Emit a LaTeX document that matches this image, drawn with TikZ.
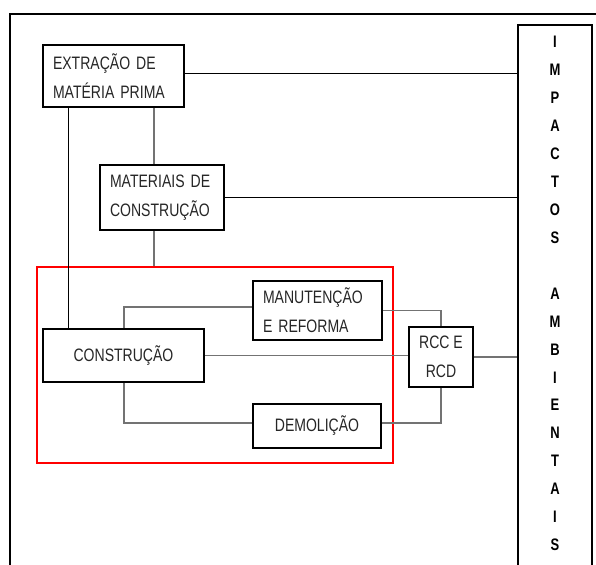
\documentclass[tikz,border=0pt]{standalone}
\usepackage{fontspec}
\setmainfont[FakeStretch=0.78]{Liberation Sans}
\begin{document}
\begin{tikzpicture}[x=0.75pt,y=-0.75pt,
  box/.style={draw=black, line width=1.2pt, fill=white, text=black!85,
    font={\fontsize{13.5}{21.5}\selectfont}, inner sep=0pt},
  lbox/.style={box, align=left, inner xsep=7.5pt},
  cbox/.style={box, align=center},
  conn/.style={line width=0.8pt, black!55},
  connk/.style={line width=0.65pt, black},
  letter/.style={font={\fontsize{12.5}{13}\selectfont\bfseries}, inner sep=0pt}]
\clip (0,0) rectangle (596,564);
\useasboundingbox (0,0) rectangle (596,564);
% outer frame
\draw[line width=1.5pt] (10,570) -- (10,14) -- (600,14);
% red group
\node[draw=red, line width=1.2pt, minimum width=267pt, minimum height=147pt, inner sep=0pt] (grp) at (215,365) {};
% impactos column
\node[draw=black, line width=1.2pt, minimum width=55.5pt, minimum height=431.25pt, inner sep=0pt] (imp) at (555,312.5) {};
\foreach \i/\l in {0/I,1/M,2/P,3/A,4/C,5/T,6/O,7/S,9/A,10/M,11/B,12/I,13/E,14/N,15/T,16/A,17/I,18/S}
  \node[letter] (L\i) at (555,{42+\i*27.94}) {\l};
% boxes
\node[lbox, minimum width=105.75pt, minimum height=46.5pt, text width=90.75pt] (ext) at (113.5,76) {EXTRAÇÃO DE\\MATÉRIA PRIMA};
\node[lbox, minimum width=93pt, minimum height=48.75pt, text width=78pt] (mat) at (162,197.5) {MATERIAIS DE\\CONSTRUÇÃO};
\node[cbox, minimum width=120.75pt, minimum height=39.75pt] (cons) at (123.5,355.5) {CONSTRUÇÃO};
\node[lbox, minimum width=96.75pt, minimum height=44.25pt, text width=81.75pt] (man) at (317.5,310.5) {MANUTENÇÃO\\E REFORMA};
\node[cbox, minimum width=96pt, minimum height=33pt] (dem) at (317,426) {DEMOLIÇÃO};
\node[cbox, minimum width=48pt, minimum height=45pt] (rcc) at (441,357) {RCC E\\RCD};
% helper coordinates
\coordinate (xa) at (68,0);
\coordinate (xb) at (154,0);
\coordinate (xc) at (124,0);
\coordinate (ya) at (0,307);
\coordinate (yb) at (0,423);
\coordinate (yc) at (0,73);
% connectors
\draw[connk] (ext.east |- yc) -- (imp.west |- yc);
\draw[connk] (mat.east) -- (mat.east -| imp.west);
\draw[connk] (ext.south -| xa) -- (cons.north -| xa);
\draw[conn] (ext.south -| xb) -- (mat.north -| xb);
\draw[conn] (mat.south -| xb) -- (grp.north -| xb);
\draw[conn] (cons.north -| xc) -- (xc |- ya) -- (man.west |- ya);
\draw[conn] (cons.south -| xc) -- (xc |- yb) -- (dem.west |- yb);
\draw[conn] (cons.east) -- (cons.east -| rcc.west);
\draw[conn] (man.east) -| (rcc.north);
\draw[conn] (dem.east |- yb) -| (rcc.south);
\draw[conn] (rcc.east) -- (rcc.east -| imp.west);
\end{tikzpicture}
\end{document}
